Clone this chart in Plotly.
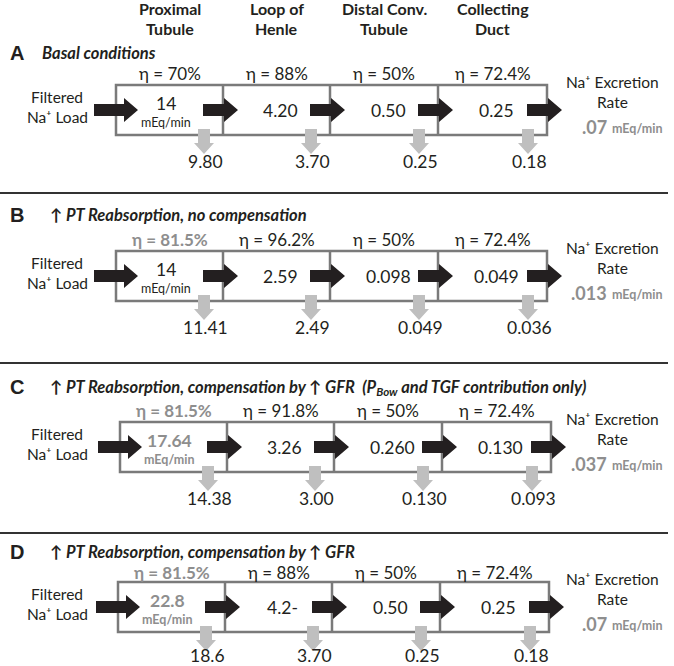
import plotly.graph_objects as go

# ---------------- data ----------------
segments_line1 = ["Proximal", "Loop of", "Distal Conv.", "Collecting"]
segments_line2 = ["Tubule", "Henle", "Tubule", "Duct"]
panel_letters = ["A", "B", "C", "D"]
panel_titles = [
    "Basal conditions",
    "↑ PT Reabsorption, no compensation",
    "↑ PT Reabsorption, compensation by ↑ GFR  (P<sub>Bow</sub> and TGF contribution only)",
    "↑ PT Reabsorption, compensation by ↑ GFR",
]
eta_A = ["70%", "88%", "50%", "72.4%"]
eta_B = ["81.5%", "96.2%", "50%", "72.4%"]
eta_C = ["81.5%", "91.8%", "50%", "72.4%"]
eta_D = ["81.5%", "88%", "50%", "72.4%"]
delivered_A = ["14", "4.20", "0.50", "0.25"]
delivered_B = ["14", "2.59", "0.098", "0.049"]
delivered_C = ["17.64", "3.26", "0.260", "0.130"]
delivered_D = ["22.8", "4.2-", "0.50", "0.25"]
reabsorbed_A = ["9.80", "3.70", "0.25", "0.18"]
reabsorbed_B = ["11.41", "2.49", "0.049", "0.036"]
reabsorbed_C = ["14.38", "3.00", "0.130", "0.093"]
reabsorbed_D = ["18.6", "3.70", "0.25", "0.18"]
excretion = [".07", ".013", ".037", ".07"]
eta_highlight = [False, True, True, True]
load_highlight = [False, False, True, True]

etas = [eta_A, eta_B, eta_C, eta_D]
delivered = [delivered_A, delivered_B, delivered_C, delivered_D]
reabsorbed = [reabsorbed_A, reabsorbed_B, reabsorbed_C, reabsorbed_D]

# ---------------- layout constants ----------------
W, H = 674, 666
FONT = "Lato"
DARK = "#231f20"
GREY_TXT = "#8e8e8e"
BOX_COL = "#7a7a7a"
GREY_ARROW = "#bfbfbf"

box_edges = [116, 223, 330, 438, 547]
panel_dx = [0, 0, 4, 2]
title_y = [53, 215, 387, 552]
eta_y = [73, 239, 410, 572]
box_top = [85, 251, 422, 582]
reab_off = [26, 26, 26, 23]
box_h = 50
sep_y = [193, 363, 533]

shapes = []
ann = []


def text(x, y, s, size=16, color=DARK, bold=False, italic=False, family=FONT,
         xanchor="center"):
    if bold:
        s = "<b>" + s + "</b>"
    if italic:
        s = "<i>" + s + "</i>"
    ann.append(dict(x=x, y=y, xref="x", yref="y", text=s, showarrow=False,
                    xanchor=xanchor, yanchor="middle", borderpad=0,
                    font=dict(family=family, size=size, color=color)))


def right_arrow(x0, x1, yc, sh=6, hh=12, hl=14, color=DARK):
    p = (f"M {x0},{yc-sh} L {x1-hl},{yc-sh} L {x1-hl},{yc-hh} L {x1},{yc} "
         f"L {x1-hl},{yc+hh} L {x1-hl},{yc+sh} L {x0},{yc+sh} Z")
    shapes.append(dict(type="path", path=p, xref="x", yref="y",
                       fillcolor=color, line=dict(width=0)))


def down_arrow(xc, y0, y1, sw=6, hw=10, hl=11, color=GREY_ARROW):
    p = (f"M {xc-sw},{y0} L {xc+sw},{y0} L {xc+sw},{y1-hl} L {xc+hw},{y1-hl} "
         f"L {xc},{y1} L {xc-hw},{y1-hl} L {xc-sw},{y1-hl} Z")
    shapes.append(dict(type="path", path=p, xref="x", yref="y",
                       fillcolor=color, line=dict(width=0)))


# header
for i in range(4):
    xc = (box_edges[i] + box_edges[i + 1]) / 2
    text(xc, 8, segments_line1[i], size=16, bold=True)
    text(xc, 28, segments_line2[i], size=16, bold=True)

# separators
for y in sep_y:
    shapes.append(dict(type="line", x0=0, x1=668, y0=y, y1=y, xref="x", yref="y",
                       line=dict(color="#333333", width=2)))

for p in range(4):
    dx = panel_dx[p]
    ed = [e + dx for e in box_edges]
    top = box_top[p]
    bot = top + box_h
    yc = (top + bot) / 2

    # letter + title
    text(17, title_y[p], panel_letters[p], size=20, bold=True, family="Liberation Sans")
    text(41 if p == 0 else 49, title_y[p], panel_titles[p], size=16.5, bold=True,
         italic=True, xanchor="left")

    # box
    shapes.append(dict(type="rect", x0=ed[0], x1=ed[4], y0=top, y1=bot, xref="x", yref="y",
                       line=dict(color=BOX_COL, width=2.5), fillcolor="rgba(0,0,0,0)"))
    for e in ed[1:4]:
        shapes.append(dict(type="line", x0=e, x1=e, y0=top, y1=bot, xref="x", yref="y",
                           line=dict(color=BOX_COL, width=2.5)))

    # black arrows
    right_arrow(ed[0] - 22, ed[0] + 22, yc)
    for e in ed[1:]:
        right_arrow(e - 20, e + 15, yc)

    # eta labels, values, reabsorption
    for i in range(4):
        xc = (ed[i] + ed[i + 1]) / 2
        hl = (i == 0 and eta_highlight[p])
        text(xc, eta_y[p], "η = " + etas[p][i], size=17,
             color=GREY_TXT if hl else DARK, bold=hl)
        if i == 0:
            lh = load_highlight[p]
            text(xc - 4, top + 18, delivered[p][i], size=17.5,
                 color=GREY_TXT if lh else DARK, bold=lh)
            text(xc - 4, top + 37, "mEq/min", size=12.5,
                 color=GREY_TXT if lh else DARK, bold=lh)
        else:
            text(xc + 4, yc, delivered[p][i], size=17.5)
        gx = ed[i + 1] - 19
        down_arrow(gx, bot - 6, bot + 19)
        text(gx + 1, bot + reab_off[p], reabsorbed[p][i], size=17.5)

    # left labels
    text(57, top + 12, "Filtered", size=15.5)
    text(57, top + 32, "Na⁺ Load", size=15.5)

    # right labels
    text(612, top - 3, "Na⁺ Excretion", size=15.5)
    text(612, top + 17, "Rate", size=15.5)
    text(608, top + 42, excretion[p], size=18, color=GREY_TXT, bold=True, xanchor="right")
    text(611, top + 43, "mEq/min", size=12.5, color=GREY_TXT, bold=True, xanchor="left")

fig = go.Figure()
fig.add_trace(go.Scatter(x=[0, W], y=[0, H], mode="markers",
                         marker=dict(opacity=0), hoverinfo="skip", showlegend=False))
fig.update_layout(
    width=W, height=H, margin=dict(l=0, r=0, t=0, b=0),
    paper_bgcolor="white", plot_bgcolor="white",
    xaxis=dict(range=[0, W], visible=False, fixedrange=True),
    yaxis=dict(range=[H, 0], visible=False, fixedrange=True),
    shapes=shapes, annotations=ann, showlegend=False,
)
fig.write_html(
    "out.html",
    config={"displayModeBar": False, "staticPlot": True},
    post_script="document.body.style.margin='0';document.body.style.overflow='hidden';",
)
